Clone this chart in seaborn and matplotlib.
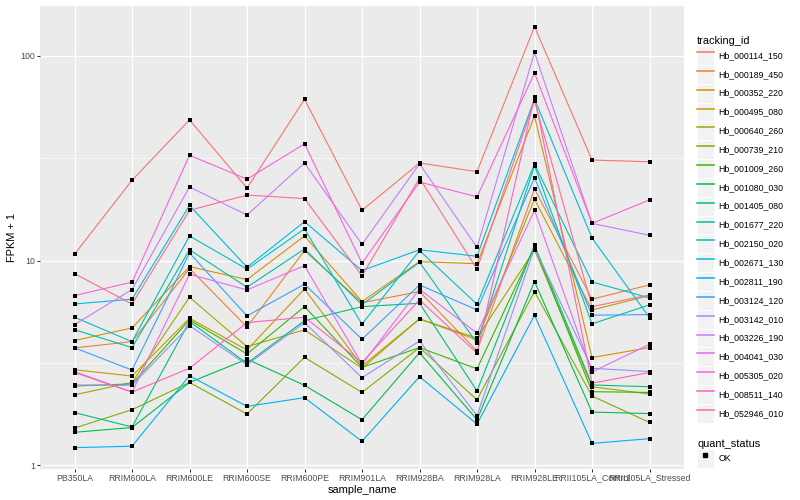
import numpy as np
import pandas as pd
import matplotlib
matplotlib.use("Agg")
import matplotlib.pyplot as plt
import seaborn as sns
from matplotlib.lines import Line2D
from matplotlib.patches import Rectangle
from matplotlib.legend_handler import HandlerLine2D
from matplotlib.ticker import FixedLocator, NullFormatter

# ---------------- data ----------------
samples = ["PB350LA", "RRIM600LA", "RRIM600LE", "RRIM600SE", "RRIM600PE",
           "RRIM901LA", "RRIM928BA", "RRIM928LA", "RRIM928LE",
           "RRII105LA_Control", "RRII105LA_Stressed"]

tracking_ids = ["Hb_000114_150", "Hb_000189_450", "Hb_000352_220", "Hb_000495_080",
                "Hb_000640_260", "Hb_000739_210", "Hb_001009_260", "Hb_001080_030",
                "Hb_001405_080", "Hb_001677_220", "Hb_002150_020", "Hb_002671_130",
                "Hb_002811_190", "Hb_003124_120", "Hb_003142_010", "Hb_003226_190",
                "Hb_004041_030", "Hb_005305_020", "Hb_008511_140", "Hb_052946_010"]

# FPKM + 1 per sample (same order as samples)
hb_000114_150 = [10.75, 24.7, 48.7, 22.6, 61.4, 17.6, 30.0, 27.2, 139.0, 31.0, 30.4]
hb_000189_450 = [3.75, 4.02, 9.14, 4.74, 11.2, 6.23, 7.06, 3.62, 22.4, 6.48, 7.61]
hb_000352_220 = [4.07, 4.69, 9.35, 8.08, 13.2, 6.31, 9.89, 9.66, 50.9, 3.36, 3.76]
hb_000495_080 = [2.93, 2.73, 5.23, 3.66, 7.27, 3.06, 5.19, 4.10, 19.95, 5.74, 6.75]
hb_000640_260 = [2.21, 2.54, 6.63, 3.80, 4.59, 2.98, 5.19, 4.18, 11.3, 2.42, 2.23]
hb_000739_210 = [1.52, 1.87, 2.54, 1.78, 3.37, 2.27, 3.76, 2.09, 7.06, 2.18, 1.62]
hb_001009_260 = [2.44, 2.50, 5.13, 3.50, 5.96, 3.01, 3.76, 2.96, 11.7, 2.29, 2.27]
hb_001080_030 = [1.45, 1.53, 2.54, 3.30, 2.46, 1.67, 3.55, 1.67, 7.90, 1.82, 1.79]
hb_001405_080 = [1.81, 1.54, 5.04, 3.15, 5.09, 5.96, 6.19, 2.31, 11.9, 2.47, 2.42]
hb_001677_220 = [4.60, 3.76, 11.3, 7.41, 11.4, 6.10, 9.82, 3.95, 29.1, 4.91, 6.08]
hb_002150_020 = [5.29, 4.02, 13.2, 9.08, 14.3, 4.89, 11.2, 6.12, 29.6, 7.87, 6.57]
hb_002671_130 = [6.14, 6.48, 18.6, 9.29, 15.5, 8.94, 11.3, 10.5, 61.7, 12.9, 5.27]
hb_002811_190 = [1.22, 1.24, 2.74, 1.94, 2.14, 1.31, 2.71, 1.59, 5.41, 1.28, 1.35]
hb_003124_120 = [3.75, 2.92, 10.9, 5.37, 7.67, 4.13, 7.61, 5.74, 25.4, 5.41, 5.45]
hb_003142_010 = [2.47, 2.46, 4.81, 3.10, 4.98, 2.68, 4.05, 1.75, 11.5, 2.98, 2.87]
hb_003226_190 = [4.87, 7.22, 22.9, 16.7, 30.0, 12.0, 29.7, 11.6, 104.0, 15.2, 13.3]
hb_004041_030 = [2.87, 2.28, 8.58, 7.19, 9.45, 3.12, 7.25, 4.42, 17.6, 2.86, 3.90]
hb_005305_020 = [6.75, 7.85, 32.7, 25.0, 37.2, 9.71, 24.2, 20.5, 82.6, 15.2, 19.8]
hb_008511_140 = [2.84, 2.28, 2.98, 4.98, 5.29, 3.18, 6.43, 3.53, 63.3, 2.52, 2.84]
hb_052946_010 = [8.64, 6.14, 17.6, 20.9, 20.1, 8.42, 25.3, 9.08, 60.3, 5.96, 6.80]

series_values = [hb_000114_150, hb_000189_450, hb_000352_220, hb_000495_080,
                 hb_000640_260, hb_000739_210, hb_001009_260, hb_001080_030,
                 hb_001405_080, hb_001677_220, hb_002150_020, hb_002671_130,
                 hb_002811_190, hb_003124_120, hb_003142_010, hb_003226_190,
                 hb_004041_030, hb_005305_020, hb_008511_140, hb_052946_010]

quant_status = "OK"

# ---------------- styles ----------------
palette = ["#F8766D", "#EA8331", "#D89000", "#C09B00", "#A3A500", "#7CAE00",
           "#39B600", "#00BB4E", "#00BF7D", "#00C1A3", "#00BFC4", "#00BAE0",
           "#00B0F6", "#35A2FF", "#9590FF", "#C77CFF", "#E76BF3", "#FA62DB",
           "#FF62BC", "#FF6C91"]

plt.rcParams["font.family"] = ["Liberation Sans", "DejaVu Sans"]

rows = []
for tid, vals in zip(tracking_ids, series_values):
    for s, v in zip(samples, vals):
        rows.append((tid, s, v, quant_status))
df = pd.DataFrame(rows, columns=["tracking_id", "sample_name", "fpkm_plus_1", "quant_status"])

W, H = 800, 500
fig = plt.figure(figsize=(8, 5), dpi=100)
left, right, top, bottom = 40, 684, 5.6, 468.7
ax = fig.add_axes([left / W, 1 - bottom / H, (right - left) / W, (bottom - top) / H])
ax.set_yscale("log")

sns.lineplot(data=df, x="sample_name", y="fpkm_plus_1", hue="tracking_id",
             hue_order=tracking_ids, palette=palette, sort=False, estimator=None,
             linewidth=0.8, legend=False, ax=ax)
sns.scatterplot(data=df, x="sample_name", y="fpkm_plus_1", color="black", marker="s",
                s=11, linewidth=0, legend=False, ax=ax, zorder=3)

lo = np.log10(df["fpkm_plus_1"].min())
hi = np.log10(df["fpkm_plus_1"].max())
pad = 0.05 * (hi - lo)
ax.set_ylim(10 ** (lo - pad), 10 ** (hi + pad))
ax.set_xlim(-0.6, len(samples) - 1 + 0.6)

ax.set_facecolor("#EBEBEB")
for sp in ax.spines.values():
    sp.set_visible(False)
ax.set_axisbelow(True)
ax.yaxis.set_major_locator(FixedLocator([1, 10, 100]))
ax.set_yticklabels(["1", "10", "100"])
ax.yaxis.set_minor_locator(FixedLocator([10 ** 0.5, 10 ** 1.5]))
ax.yaxis.set_minor_formatter(NullFormatter())
ax.grid(which="major", color="white", linewidth=0.8)
ax.grid(which="minor", axis="y", color="white", linewidth=0.4)
ax.tick_params(which="major", length=2.0, width=0.77, color="#333333",
               labelcolor="#4D4D4D", labelsize=6.3, pad=1.6)
ax.tick_params(which="minor", length=0)

ax.set_xlabel("sample_name", fontsize=7.9, labelpad=2.0)
ax.set_ylabel("FPKM + 1", fontsize=7.9, labelpad=2.0)


class KeyHandler(HandlerLine2D):
    def create_artists(self, legend, orig_handle, xdescent, ydescent, width,
                       height, fontsize, trans):
        bg = Rectangle((-xdescent, -ydescent), width, height, facecolor="#F2F2F2",
                       edgecolor="white", linewidth=0.7, transform=trans)
        arts = super().create_artists(legend, orig_handle, xdescent, ydescent,
                                      width, height, fontsize, trans)
        return [bg] + list(arts)


line_handles = [Line2D([], [], color=c, linewidth=1.1) for c in palette]
common = dict(loc="upper left", frameon=False, fontsize=6.3, title_fontsize=7.9,
              handlelength=1.94, handleheight=2.935, handletextpad=0.5,
              labelspacing=0, borderpad=0, borderaxespad=0, alignment="left")
leg1 = fig.legend(line_handles, tracking_ids, title="tracking_id",
                  bbox_to_anchor=(697 / W, 1 - 36 / H),
                  handler_map={Line2D: KeyHandler(numpoints=1)}, **common)
ok_handle = Line2D([], [], linestyle="None", marker="s", markersize=3.3,
                   markerfacecolor="black", markeredgecolor="black")
leg2 = fig.legend([ok_handle], [quant_status], title="quant_status",
                  bbox_to_anchor=(697 / W, 1 - 439 / H),
                  handler_map={Line2D: KeyHandler(numpoints=1)}, **common)

fig.savefig("out.png", dpi=100)
